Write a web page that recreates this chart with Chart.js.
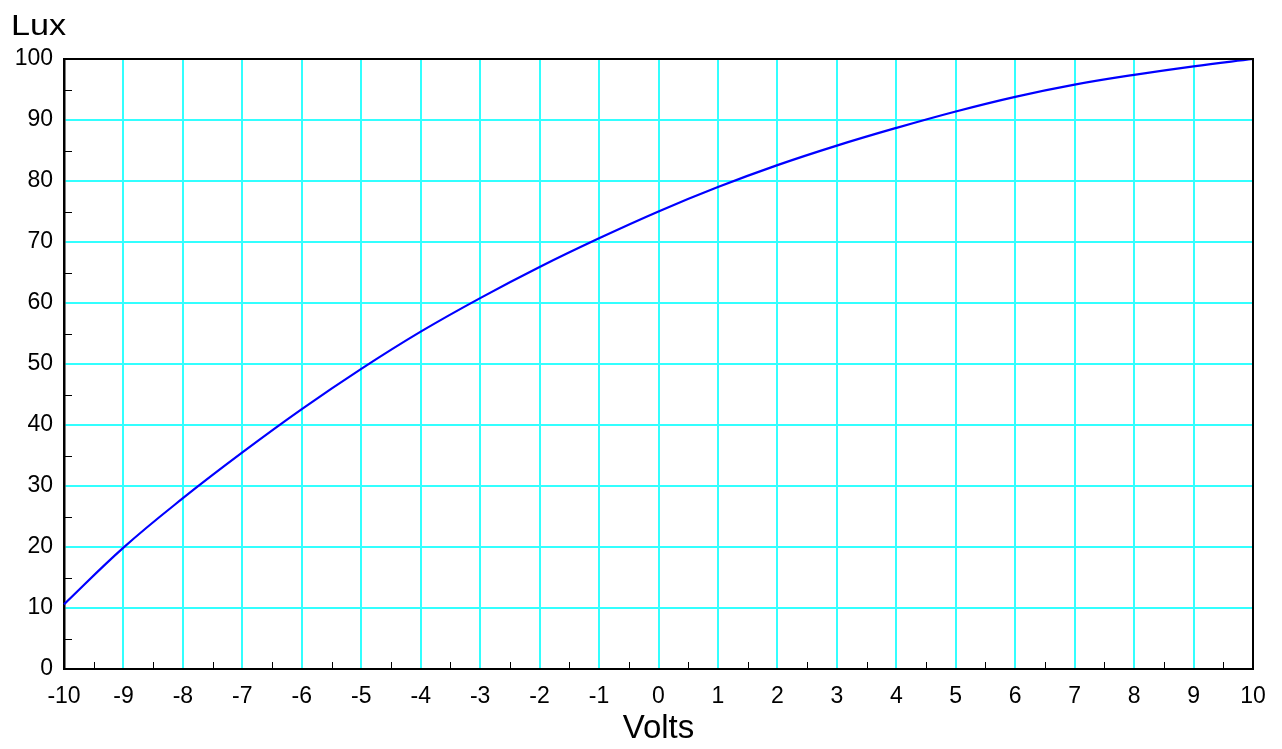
<!DOCTYPE html>
<html>
<head>
<meta charset="utf-8">
<script src="https://cdn.jsdelivr.net/npm/chart.js@4/dist/chart.umd.min.js"></script>
<style>
  html, body { margin: 0; padding: 0; background: #fff; }
  #wrap { width: 1282px; height: 749px; }
</style>
</head>
<body>
<div id="wrap"><canvas id="c"></canvas></div>
<script>
// values
const volts = [-10, -9, -8, -7, -6, -5, -4, -3, -2, -1, 0, 1, 2, 3, 4, 5, 6, 7, 8, 9, 10];
const lux = [10.6, 19.9, 28.0, 35.5, 42.6, 49.2, 55.3, 60.8, 65.9, 70.6, 75.0,
             79.0, 82.6, 85.8, 88.7, 91.4, 93.8, 95.8, 97.4, 98.8, 100];
const xTitle = 'Volts';
const yTitle = 'Lux';

const FONT = 'Liberation Sans, Arial, sans-serif';

function makePoints(xs, ys) {
  return xs.map(function(x, i) {
    return { x: x, y: ys[i] };
  });
}

// box border, minor ticks and the "Lux" label
const extras = {
  id: 'extras',
  afterDraw(chart) {
    const ctx = chart.ctx;
    const a = chart.chartArea;
    const xs = chart.scales.x, ys = chart.scales.y;
    ctx.save();
    ctx.strokeStyle = '#000';
    ctx.lineWidth = 2;
    ctx.beginPath();
    ctx.moveTo(a.left, a.top);
    ctx.lineTo(a.right, a.top);
    ctx.lineTo(a.right, a.bottom);
    ctx.stroke();

    ctx.lineWidth = 1;
    ctx.beginPath();
    for (let v = -9.5; v < 10; v += 1) {
      const px = Math.round(xs.getPixelForValue(v)) + 0.5;
      ctx.moveTo(px, a.bottom);
      ctx.lineTo(px, a.bottom - 7);
    }
    for (let v = 5; v < 100; v += 10) {
      const py = Math.round(ys.getPixelForValue(v)) + 0.5;
      ctx.moveTo(a.left, py);
      ctx.lineTo(a.left + 8, py);
    }
    ctx.stroke();

    // the label is a bit wider than plain Arial, so stretch it
    ctx.fillStyle = '#000';
    ctx.font = '29px ' + FONT;
    ctx.textAlign = 'left';
    ctx.textBaseline = 'alphabetic';
    ctx.translate(11, 35);
    ctx.scale(1.18, 1);
    ctx.fillText(yTitle, 0, 0);
    ctx.restore();
  }
};

new Chart(document.getElementById('c'), {
  type: 'scatter',
  data: {
    datasets: [{
      data: makePoints(volts, lux),
      showLine: true,
      borderColor: '#0000ff',
      borderWidth: 2.2,
      pointRadius: 0,
      tension: 0.4,
      clip: false
    }]
  },
  options: {
    responsive: true,
    maintainAspectRatio: false,
    animation: false,
    layout: { padding: { top: 59, right: 29, left: 0, bottom: 0 } },
    plugins: { legend: { display: false }, tooltip: { enabled: false } },
    scales: {
      x: {
        type: 'linear',
        min: -10, max: 10,
        afterFit(scale) { scale.height = 80; },
        ticks: { stepSize: 1, color: '#000', padding: 14, font: { family: FONT, size: 23 } },
        grid: { color: '#33ffff', lineWidth: 2, drawTicks: false },
        border: { color: '#000', width: 2 },
        title: { display: true, text: xTitle, color: '#000', font: { family: FONT, size: 33 }, padding: { top: 0, bottom: 0 } }
      },
      y: {
        min: 0, max: 100,
        afterFit(scale) { scale.width = 64; },
        ticks: { stepSize: 10, color: '#000', padding: 11, font: { family: FONT, size: 23 } },
        grid: { color: '#33ffff', lineWidth: 2, drawTicks: false },
        border: { color: '#000', width: 2.5 }
      }
    }
  },
  plugins: [extras]
});
</script>
</body>
</html>
